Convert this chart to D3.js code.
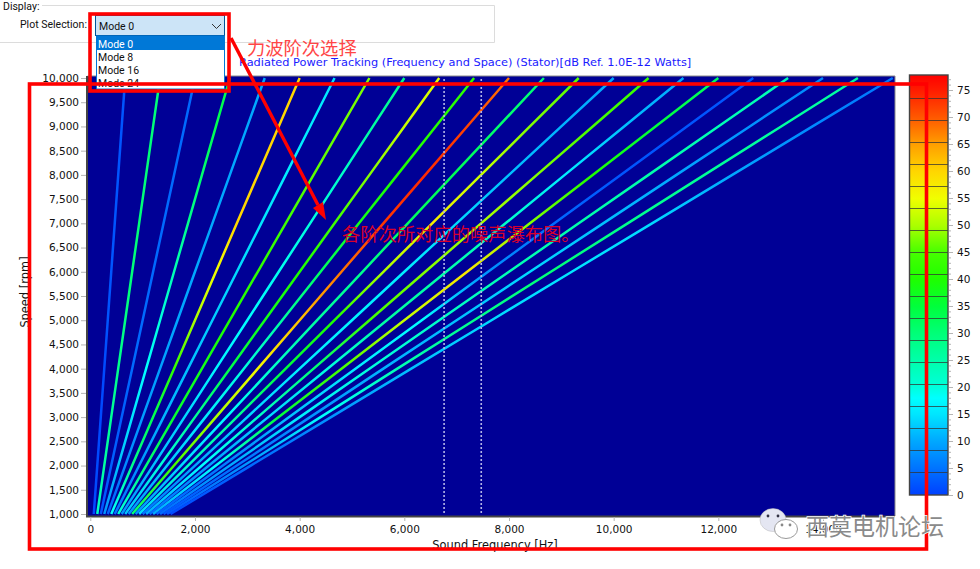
<!DOCTYPE html>
<html><head><meta charset="utf-8">
<style>html,body{margin:0;padding:0;background:#fff;overflow:hidden}svg{display:block}
text{font-family:"DejaVu Sans",sans-serif}</style>
<script src="https://cdn.jsdelivr.net/npm/d3@7/dist/d3.min.js"></script></head><body>
<svg id="c" width="980" height="569"></svg>
<script>
const speeds=[1000,2000,3000,4000,5000,6000,7000,8000,9000,10000];
const topFrequency=[667,1333,2000,2667,3333,4000,4667,5333,6000,6667,7333,8000,8667,9333,10000,10667,11333,12000,12667,13333,14000,14667,15333];
const levels=[
[1,1,1,1,2,2,2,2,2,2],
[22,26,27,28,29,30,30,30,30,30],
[2,3,3,4,4,4,4,4,4,4],
[8,12,15,18,20,24,28,31,33,34],
[3,7,9,9,10,10,10,10,10,10],
[18,28,33,42,50,55,60,60,60,60],
[5,8,11,12,13,14,15,16,16,15],
[20,30,36,38,40,42,44,46,47,48],
[8,12,14,17,18,19,20,22,26,28],
[12,20,27,34,38,40,44,48,52,54],
[8,13,16,20,26,32,38,40,41,42],
[30,45,50,56,62,68,73,74,72,68],
[8,14,18,22,26,28,32,33,31,30],
[14,22,27,35,40,50,57,52,48,46],
[5,10,14,16,17,16,14,12,11,10],
[10,18,22,30,44,48,50,48,45,43],
[4,9,14,20,26,25,22,16,12,10],
[10,18,35,45,52,58,48,40,35,32],
[3,6,12,16,18,8,4,2,2,2],
[4,10,16,20,22,24,25,25,24,24],
[2,5,8,11,12,14,12,10,8,7],
[2,8,18,24,28,30,28,27,26,26],
[1,4,8,12,14,15,14,10,7,5]];
const cursorFrequency=[6760,7470];
const xTicks=[0,2000,4000,6000,8000,10000,12000,14000];
const yTicks=[1000,1500,2000,2500,3000,3500,4000,4500,5000,5500,6000,6500,7000,7500,8000,8500,9000,9500,10000];
const barTicks=[0,5,10,15,20,25,30,35,40,45,50,55,60,65,70,75];
const colorStops=[0,10,15,18,20,25,30,35,40,45,50,55,60,65,70,75,78];
const colorValues=["#0040ff","#00a8ff","#00e6ff","#00ffff","#00ffdc","#00ffaa","#00ff78","#00ff3c","#1eff00","#46ff00","#aaff00","#f0ff00","#ffd700","#ffa000","#ff5a00","#ff1e00","#ff0000"];
const modes=["Mode 0","Mode 8","Mode 16","Mode 24"];
const title="Radiated Power Tracking (Frequency and Space) (Stator)[dB Ref. 1.0E-12 Watts]";

const svg=d3.select("#c");
const defs=svg.append("defs");
const x=d3.scaleLinear().domain([0,14000]).range([90.3,823]);
const y=d3.scaleLinear().domain([1000,10000]).range([514,78]);
const cb=d3.scaleLinear().domain([0,75]).range([495,90]);
const color=d3.scaleLinear().domain(colorStops).range(colorValues).clamp(true);

// plot
svg.append("rect").attr("x",87).attr("y",76).attr("width",808).attr("height",440).attr("fill","#000096");
const line=d3.line().x(d=>x(d[0])).y(d=>y(d[1]));
topFrequency.forEach((ft,i)=>{
  const pts=speeds.map(s=>[ft*s/10000,s]);
  const id="g"+i;
  const g=defs.append("linearGradient").attr("id",id).attr("gradientUnits","userSpaceOnUse")
    .attr("x1",x(pts[0][0])).attr("y1",y(pts[0][1])).attr("x2",x(pts[9][0])).attr("y2",y(pts[9][1]));
  levels[i].forEach((v,j)=>g.append("stop").attr("offset",j/9).attr("stop-color",color(v)));
  svg.append("path").attr("d",line(pts)).attr("fill","none").attr("stroke",`url(#${id})`).attr("stroke-width",2.5);
});
cursorFrequency.forEach(f=>svg.append("line").attr("x1",x(f)).attr("x2",x(f)).attr("y1",79).attr("y2",514)
  .attr("stroke","#b4b4e6").attr("stroke-width",1.6).attr("stroke-dasharray","2 2"));

// frame
svg.append("path").attr("d","M87.5,76H895V516").attr("fill","none").attr("stroke","#8a8a8a").attr("stroke-width",1);
svg.append("path").attr("d","M87,76V516.5H895").attr("fill","none").attr("stroke","#444").attr("stroke-width",2);

// axes
function style(g){g.select(".domain").remove();g.selectAll("line").attr("stroke","#b5b5b5");
  g.selectAll("text").attr("fill","#111").style("font-size","10.5px").style("font-family",'"DejaVu Sans"');}
svg.append("g").attr("transform","translate(86,0)")
  .call(d3.axisLeft(y).tickValues(yTicks).tickFormat(d3.format(",")).tickSize(5).tickPadding(2)).call(style);
svg.append("g").attr("transform","translate(0,517)")
  .call(d3.axisBottom(x).tickValues(xTicks).tickFormat(d3.format(",")).tickSize(4).tickPadding(5)).call(style);
svg.append("text").attr("x",495).attr("y",549).attr("text-anchor","middle").attr("font-size",11.4).attr("fill","#111").text("Sound Frequency [Hz]");
svg.append("text").attr("transform","translate(29,292) rotate(-90)").attr("text-anchor","middle").attr("font-size",11.4).attr("fill","#111").text("Speed [rpm]");
svg.append("text").attr("x",239).attr("y",66).attr("font-size",11.35).attr("fill","#1a1aff").text(title);

// colour bar
const bar=defs.append("linearGradient").attr("id","bar").attr("x1",0).attr("x2",0).attr("y1",1).attr("y2",0);
const barTop=78;
colorStops.forEach((v,i)=>bar.append("stop").attr("offset",v/barTop).attr("stop-color",colorValues[i]));
svg.append("rect").attr("x",910).attr("y",75).attr("width",38).attr("height",420).attr("fill","url(#bar)");
svg.append("g").selectAll("line").data(d3.range(1,19)).join("line")
  .attr("x1",910).attr("x2",948).attr("y1",d=>494-d*22+.5).attr("y2",d=>494-d*22+.5).attr("stroke","#333").attr("stroke-opacity",.75);
svg.append("rect").attr("x",909.5).attr("y",75).attr("width",38.5).attr("height",420).attr("fill","none").attr("stroke","#444").attr("stroke-width",1.4);
svg.append("g").attr("transform","translate(949,0)")
  .call(d3.axisRight(cb).tickValues(d3.range(0,78)).tickFormat("").tickSize(2)).call(style);
svg.append("g").attr("transform","translate(949,0)")
  .call(d3.axisRight(cb).tickValues(barTicks).tickFormat(d3.format("d")).tickSize(4).tickPadding(4)).call(style);

// UI panel
svg.append("path").attr("d","M42,5.5H494.5V42.5H0").attr("fill","none").attr("stroke","#dcdcdc");
svg.append("text").attr("x",3).attr("y",10).attr("font-size",10.5).style("font-family","Roboto").attr("fill","#111").text("Display:");
svg.append("text").attr("x",20).attr("y",28).attr("font-size",10.5).style("font-family","Roboto").attr("fill","#111").text("Plot Selection:");
svg.append("rect").attr("x",95.5).attr("y",15.5).attr("width",129).attr("height",20).attr("fill","#cce4f7").attr("stroke","#005499");
svg.append("text").attr("x",99).attr("y",30).attr("font-size",10.5).style("font-family","Roboto").attr("fill","#111").text(modes[0]);
svg.append("path").attr("d","M212,24l4.5,4.5l4.5,-4.5").attr("fill","none").attr("stroke","#333");
svg.append("rect").attr("x",96.5).attr("y",36).attr("width",128).attr("height",53).attr("fill","#fff").attr("stroke","#0078d7");
svg.append("rect").attr("x",96).attr("y",36).attr("width",129).attr("height",14).attr("fill","#0078d7");
const clip=defs.append("clipPath").attr("id","dd");clip.append("rect").attr("x",96).attr("y",36).attr("width",129).attr("height",52);
svg.append("g").attr("clip-path","url(#dd)").selectAll("text").data(modes).join("text")
  .attr("x",98).attr("y",(d,i)=>48+i*13).attr("font-size",10.5).style("font-family","Roboto")
  .attr("fill",(d,i)=>i?"#111":"#fff").text(d=>d);

// annotations
const red="#ff0000";
svg.append("rect").attr("x",90).attr("y",14).attr("width",139).attr("height",77).attr("fill","none").attr("stroke",red).attr("stroke-width",3.6);
svg.append("rect").attr("x",29.5).attr("y",84).attr("width",897).attr("height",465).attr("fill","none").attr("stroke",red).attr("stroke-width",3.6);
svg.append("line").attr("x1",231).attr("y1",38).attr("x2",318).attr("y2",205).attr("stroke",red).attr("stroke-width",3.4);
svg.append("path").attr("d","M326,220L313,208L323,202Z").attr("fill",red);
svg.append("text").attr("x",247).attr("y",55).attr("font-size",18.3).style("font-family",'"Noto Sans CJK SC"').attr("fill","#ff4646").text("力波阶次选择");
svg.append("text").attr("x",342).attr("y",241).attr("font-size",18.3).style("font-family",'"Noto Sans CJK SC"').attr("fill","#d8002d").text("各阶次所对应的噪声瀑布图。");

// watermark
const wm=svg.append("g");
wm.append("ellipse").attr("cx",773).attr("cy",520).attr("rx",13).attr("ry",11.5).attr("fill","#e4e6f2").attr("stroke","#bbb").attr("stroke-width",.5);
wm.append("ellipse").attr("cx",786).attr("cy",529).attr("rx",11.5).attr("ry",9.5).attr("fill","#fff").attr("stroke","#999");
[[768,516,"#334"],[778,516,"#334"],[782,525,"#888"],[790,525,"#888"]].forEach(d=>wm.append("circle").attr("cx",d[0]).attr("cy",d[1]).attr("r",1.4).attr("fill",d[2]));
wm.append("text").attr("x",806).attr("y",535).attr("font-size",23).style("font-family",'"Noto Sans CJK SC"')
  .attr("fill","#8a8a8a").attr("stroke","#fff").attr("stroke-width",1.5).attr("paint-order","stroke").text("西莫电机论坛");
</script></body></html>
